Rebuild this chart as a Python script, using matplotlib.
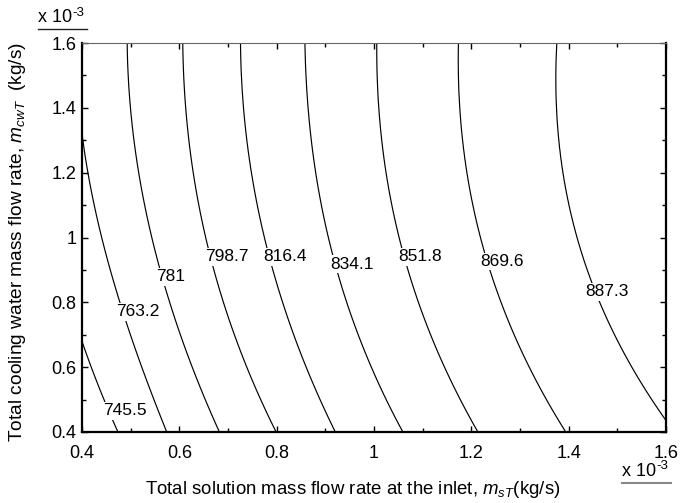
import numpy as np
import matplotlib
matplotlib.use("Agg")
import matplotlib.pyplot as plt
from matplotlib.ticker import MultipleLocator, FuncFormatter
from matplotlib.lines import Line2D

plt.rcParams['font.family'] = ['Liberation Sans', 'DejaVu Sans']
plt.rcParams['mathtext.fontset'] = 'custom'
plt.rcParams['mathtext.rm'] = 'Liberation Sans'
plt.rcParams['mathtext.it'] = 'Liberation Sans:italic'

# ---- data (units of 1e-3 kg/s) ----
levels = [745.5, 763.2, 781.0, 798.7, 816.4, 834.1, 851.8, 869.6, 887.3]
y_samples = [0.4, 0.6, 0.8, 0.961, 1.2, 1.4, 1.6]
x_745_5 = [0.474, 0.419, 0.375, 0.345, 0.314, 0.299, 0.292]
x_763_2 = [0.574, 0.523, 0.478, 0.447, 0.4115, 0.395, 0.388]
x_781_0 = [0.682, 0.627, 0.581, 0.548, 0.517, 0.500, 0.4925]
x_798_7 = [0.799, 0.738, 0.692, 0.659, 0.629, 0.613, 0.607]
x_816_4 = [0.920, 0.861, 0.815, 0.777, 0.749, 0.733, 0.725]
x_834_1 = [1.059, 0.995, 0.945, 0.910, 0.882, 0.864, 0.858]
x_851_8 = [1.213, 1.145, 1.095, 1.053, 1.026, 1.011, 1.005]
x_869_6 = [1.394, 1.318, 1.264, 1.223, 1.191, 1.177, 1.173]
x_887_3 = [1.617, 1.529, 1.468, 1.420, 1.389, 1.376, 1.375]
curves = [x_745_5, x_763_2, x_781_0, x_798_7, x_816_4,
          x_834_1, x_851_8, x_869_6, x_887_3]
label_positions = [(0.488, 0.465), (0.514, 0.771), (0.582, 0.879),
                   (0.698, 0.940), (0.818, 0.940), (0.955, 0.918),
                   (1.094, 0.941), (1.262, 0.926), (1.478, 0.833)]
xticks = [0.4, 0.6, 0.8, 1.0, 1.2, 1.4, 1.6]
yticks = [0.4, 0.6, 0.8, 1.0, 1.2, 1.4, 1.6]

# ---- build the field from the read curves ----
fits = [np.polyfit(y_samples, c, 3) for c in curves]
xg = np.linspace(0.4, 1.6, 500)
yg = np.linspace(0.4, 1.6, 400)
Z = np.empty((len(yg), len(xg)))
step = levels[1] - levels[0]
for j, yv in enumerate(yg):
    xs = [np.polyval(p, yv) for p in fits]
    xs_ext = [xs[0] - 0.15] + xs + [xs[-1] + 0.25]
    lv_ext = [levels[0] - step] + levels + [levels[-1] + step]
    Z[j] = np.interp(xg, xs_ext, lv_ext)
X, Y = np.meshgrid(xg, yg)

fig = plt.figure(figsize=(6.8, 5.03), dpi=100)
ax = fig.add_axes([82/680, 1 - 432/503, 584/680, 389/503])
cs = ax.contour(X, Y, Z, levels=levels, colors='black', linewidths=0.85)
labs = ax.clabel(cs, levels, inline=False, fmt='%g', fontsize=12.5,
                 manual=label_positions)
for t, pos in zip(labs, label_positions):
    t.set_rotation(0)
    t.set_position(pos)
    t.set_bbox(dict(facecolor='white', edgecolor='none', pad=1.0))

ax.set_xlim(0.4, 1.6)
ax.set_ylim(0.4, 1.6)
ax.set_xticks(xticks)
ax.set_yticks(yticks)
fmt = FuncFormatter(lambda v, p: ('%g' % round(v, 3)))
ax.xaxis.set_major_formatter(fmt)
ax.yaxis.set_major_formatter(fmt)
ax.xaxis.set_minor_locator(MultipleLocator(0.1))
ax.yaxis.set_minor_locator(MultipleLocator(0.1))
ax.tick_params(which='both', direction='in', top=True, right=True, width=1,
               labelsize=13)
ax.tick_params(which='major', length=4)
ax.tick_params(which='minor', length=3)
ax.tick_params(axis='x', pad=9)
ax.tick_params(axis='y', pad=4)
for s in ['left', 'right', 'bottom']:
    ax.spines[s].set_linewidth(1.6)
ax.spines['top'].set_linewidth(0.8)
ax.spines['top'].set_color('#666666')

fig.text(353/680, 1 - 494/503,
         r'Total solution mass flow rate at the inlet, $m_{sT}$(kg/s)',
         ha='center', va='baseline', fontsize=13.4)
fig.text(18/680, 1 - 242/503,
         r'Total cooling water mass flow rate, $m_{cwT}$  (kg/s)',
         ha='center', va='center', rotation=90, fontsize=13.8)


def multiplier(x0, ybase, line_color, lw):
    t = fig.text(x0/680, 1 - ybase/503, 'x 10', ha='left', va='baseline',
                 fontsize=13)
    fig.canvas.draw()
    bb = t.get_window_extent()
    fig.text(bb.x1/680 + 0.5/680, 1 - (ybase - 7)/503, '-3', ha='left',
             va='baseline', fontsize=9.5)
    fig.add_artist(Line2D([x0/680, (x0 + 49)/680],
                          [1 - (ybase + 6.5)/503, 1 - (ybase + 6.5)/503],
                          color=line_color, lw=lw, transform=fig.transFigure))


multiplier(38, 22.5, '#222222', 1.0)
multiplier(622, 476, '#888888', 1.5)

fig.savefig('out.png', dpi=100)
